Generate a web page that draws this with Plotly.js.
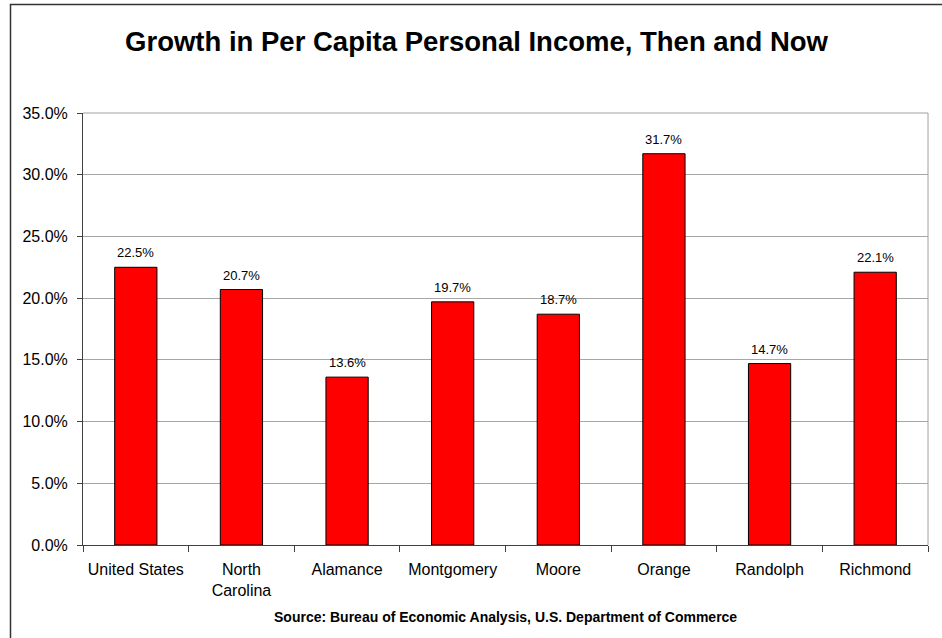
<!DOCTYPE html>
<html>
<head>
<meta charset="utf-8">
<script src="https://cdn.plot.ly/plotly-3.0.1.min.js"></script>
<style>
html,body{margin:0;padding:0;background:#fff;}
#chart{width:942px;height:638px;}
</style>
</head>
<body>
<div id="chart"></div>
<script>
// Data
const categories = ["United States", "North<br>Carolina", "Alamance", "Montgomery", "Moore", "Orange", "Randolph", "Richmond"];
const growth = [0.225, 0.207, 0.136, 0.197, 0.187, 0.317, 0.147, 0.221];
const yTickVals = [0, 0.05, 0.10, 0.15, 0.20, 0.25, 0.30, 0.35];

const FONT = "Liberation Sans, Arial, sans-serif";

const trace = {
  type: "bar",
  x: categories,
  y: growth,
  marker: {color: "#FF0000", line: {color: "#000000", width: 1}},
  hoverinfo: "x+y",
  cliponaxis: false
};

const labelAnnotations = categories.map((c, i) => ({
  x: c, y: growth[i], xref: "x", yref: "y",
  text: (growth[i] * 100).toFixed(1) + "%",
  showarrow: false, yanchor: "bottom", yshift: 5,
  font: {family: FONT, size: 13, color: "#000"}
}));

const layout = {
  width: 942, height: 638,
  margin: {l: 83, r: 14, t: 113, b: 93},
  paper_bgcolor: "#ffffff",
  plot_bgcolor: "#ffffff",
  showlegend: false,
  bargap: 0.6,
  title: {
    text: "<b>Growth in Per Capita Personal Income, Then and Now</b>",
    font: {family: FONT, size: 27.5, color: "#000"},
    x: 476.5 / 942, xanchor: "center", y: 1 - 41/638, yanchor: "middle", xref: "container"
  },
  xaxis: {
    type: "category",
    showline: true, linecolor: "#404040", linewidth: 1,
    ticks: "outside", tickson: "boundaries", ticklen: 6, tickcolor: "#404040",
    ticklabelstandoff: 10,
    tickfont: {family: FONT, size: 16, color: "#000"},
    showgrid: false, zeroline: false, fixedrange: true
  },
  yaxis: {
    range: [0, 0.35], tickvals: yTickVals, tickformat: ".1%",
    showline: true, linecolor: "#404040", linewidth: 1,
    ticks: "outside", ticklen: 5, tickcolor: "#404040",
    ticklabelstandoff: 6,
    tickfont: {family: FONT, size: 16, color: "#000"},
    showgrid: true, gridcolor: "#a6a6a6", gridwidth: 1,
    zeroline: false, fixedrange: true
  },
  shapes: [
    // plot area top and right border
    {type: "line", xref: "paper", yref: "paper", x0: 0, x1: 1, y0: 1, y1: 1, line: {color: "#a0a0a0", width: 1}},
    {type: "line", xref: "paper", yref: "paper", x0: 1, x1: 1, y0: 0, y1: 1, line: {color: "#a0a0a0", width: 1}},
    // outer chart frame
    {type: "rect", xref: "paper", yref: "paper",
     x0: (10.5 - 83) / 845, x1: (950 - 83) / 845,
     y0: (545 - 650) / 432, y1: (545 - 4.5) / 432,
     line: {color: "#333333", width: 1.5}, fillcolor: "rgba(0,0,0,0)"}
  ],
  annotations: labelAnnotations.concat([{
    xref: "paper", yref: "paper", x: 0.5, y: (545 - 617) / 432,
    xanchor: "center", yanchor: "middle", showarrow: false,
    text: "<b>Source: Bureau of Economic Analysis, U.S. Department of Commerce</b>",
    font: {family: FONT, size: 14, color: "#000"}
  }])
};

Plotly.newPlot("chart", [trace], layout, {displayModeBar: false, staticPlot: true});
</script>
</body>
</html>
